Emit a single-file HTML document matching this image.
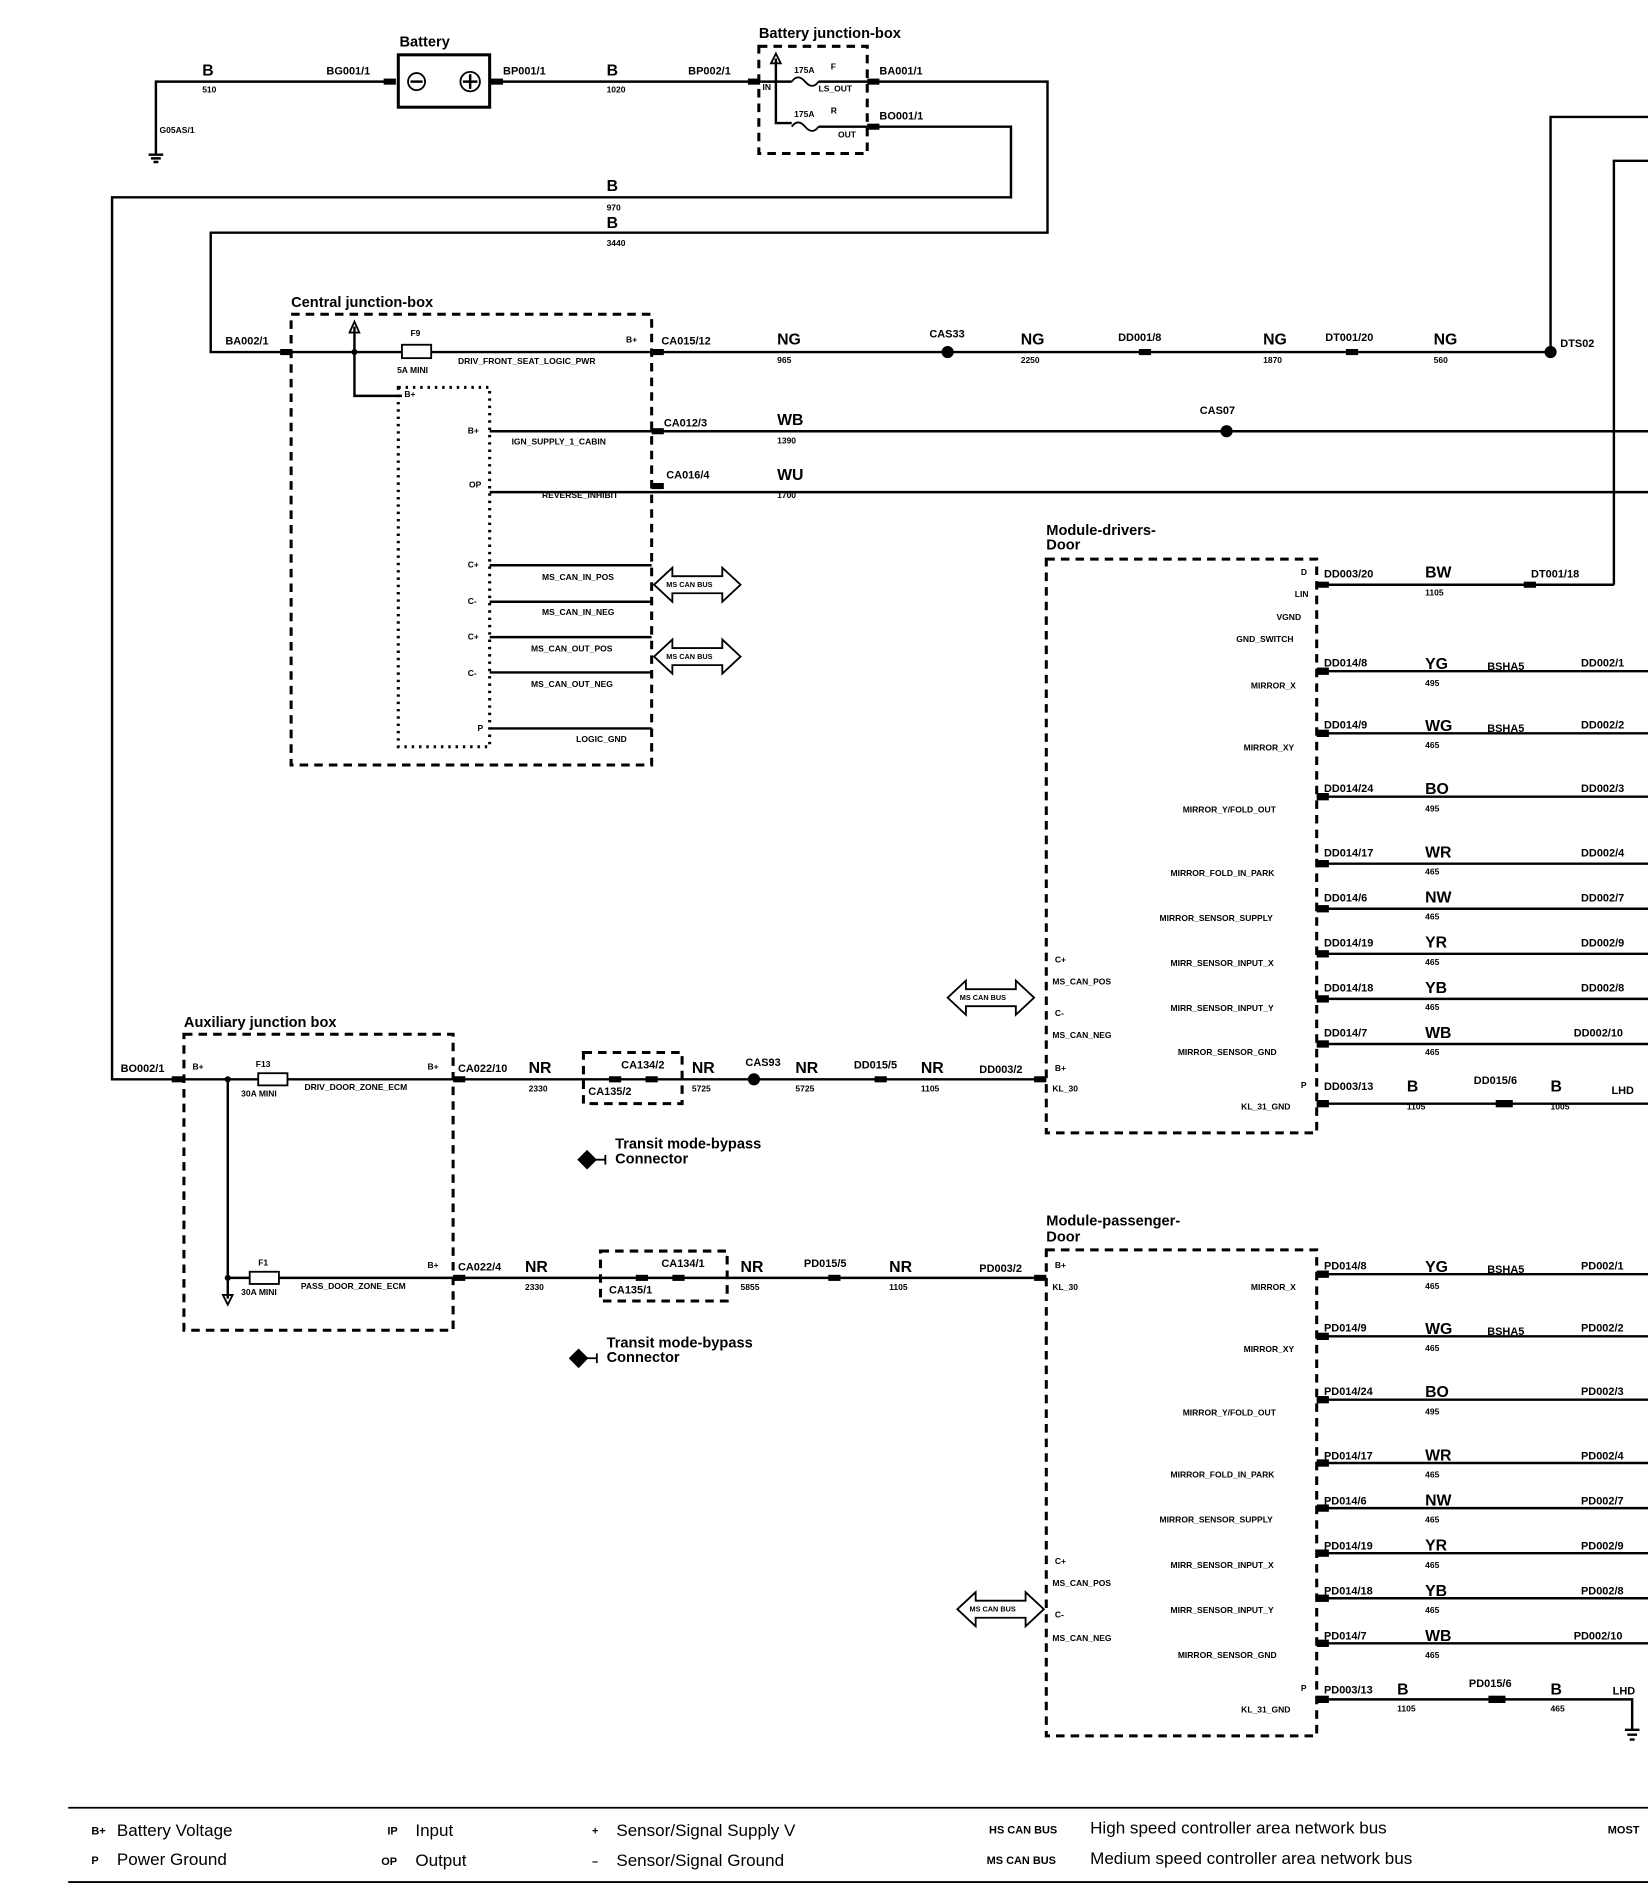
<!DOCTYPE html>
<html><head><meta charset="utf-8"><style>
html,body{margin:0;padding:0;background:#fff}
svg{display:block}
text{font-family:"Liberation Sans",Arial,sans-serif;fill:#000}
.s{font-size:9px;font-weight:bold}
.n{font-size:7px;font-weight:bold}
.c{font-size:13px;font-weight:bold}
.t{font-size:12px;font-weight:bold}
.l{font-size:9px}
.w{stroke:#000;stroke-width:2;fill:none}
.d{stroke:#000;stroke-width:2.5;fill:none;stroke-dasharray:7,5}
.p{stroke:#000;stroke-width:2.5;fill:none;stroke-dasharray:2,4}
.g{font-size:14px}
</style></head><body>
<svg width="1648" height="1904" viewBox="0 0 1353 1563" preserveAspectRatio="none" xmlns="http://www.w3.org/2000/svg">
<defs>
<g id="cn"><rect x="-5" y="-2.5" width="10" height="5" fill="#000"/></g>
</defs>
<!-- top battery -->
<path class="w" d="M128 127 V67 H320"/>
<path class="w" d="M122 127 H134 M124 130 H132 M126 133 H130"/>
<text class="n" x="131" y="109">G05AS/1</text>
<text class="c" x="166" y="62">B</text><text class="n" x="166" y="76">510</text>
<text class="s" x="268" y="61">BG001/1</text>
<use href="#cn" x="320" y="67"/>
<text class="t" x="328" y="38">Battery</text>
<rect x="327" y="45" width="75" height="43" fill="none" stroke="#000" stroke-width="2.5"/>
<circle cx="342" cy="67" r="7" fill="none" stroke="#000" stroke-width="1.5"/><path class="w" d="M337 67 H347"/>
<circle cx="386" cy="67" r="8" fill="none" stroke="#000" stroke-width="1.5"/><path class="w" d="M380 67 H392 M386 61 V73"/>
<path class="w" d="M402 67 H625"/><use href="#cn" x="408" y="67"/><use href="#cn" x="619" y="67"/>
<text class="s" x="413" y="61">BP001/1</text>
<text class="c" x="498" y="62">B</text><text class="n" x="498" y="76">1020</text>
<text class="s" x="565" y="61">BP002/1</text>
<text class="t" x="623" y="31">Battery junction-box</text>
<rect class="d" x="623" y="38" width="89" height="88"/>
<path class="w" d="M637 48 V101 H650 M625 67 H650 M672 67 H712 M672 104 H712"/>
<path d="M637 44 L633 52 H641Z" fill="none" stroke="#000" stroke-width="1.5"/>
<path d="M650 67 q5 -7 11 0 t11 0 M650 104 q5 -7 11 0 t11 0" fill="none" stroke="#000" stroke-width="1.5"/>
<text class="n" x="652" y="60">175A</text><text class="n" x="682" y="57">F</text><text class="n" x="672" y="75">LS_OUT</text>
<text class="n" x="652" y="96">175A</text><text class="n" x="682" y="93">R</text><text class="n" x="688" y="113">OUT</text>
<text class="n" x="626" y="74">IN</text>
<use href="#cn" x="717" y="67"/><use href="#cn" x="717" y="104"/>
<text class="s" x="722" y="61">BA001/1</text><text class="s" x="722" y="98">BO001/1</text>
<path class="w" d="M712 67 H860 V191 H173 V289 H232"/>
<path class="w" d="M712 104 H830 V162 H92 V886 H140"/>
<text class="c" x="498" y="157">B</text><text class="n" x="498" y="173">970</text>
<text class="c" x="498" y="187">B</text><text class="n" x="498" y="202">3440</text>
<!-- right top -->
<path class="w" d="M1273 289 V96 H1353 M1325 480 V132 H1353"/>
<!-- central jb -->
<text class="t" x="239" y="252">Central junction-box</text>
<rect class="d" x="239" y="258" width="296" height="370"/>
<text class="s" x="185" y="283">BA002/1</text>
<use href="#cn" x="235" y="289"/>
<path class="w" d="M239 289 H330 M354 289 H1273"/>
<rect x="330" y="283" width="24" height="11" fill="none" stroke="#000" stroke-width="1.5"/>
<text class="n" x="337" y="276">F9</text><text class="n" x="326" y="306">5A MINI</text>
<path class="w" d="M291 268 V325 H330"/><path d="M291 264 L287 273 H295Z" fill="none" stroke="#000" stroke-width="1.5"/>
<circle cx="291" cy="289" r="2.5"/>
<rect class="p" x="327" y="318" width="75" height="295"/>
<text class="n" x="332" y="326">B+</text>
<text class="n" x="514" y="281">B+</text>
<text class="n" x="376" y="299">DRIV_FRONT_SEAT_LOGIC_PWR</text>
<use href="#cn" x="540" y="289"/>
<text class="s" x="543" y="283">CA015/12</text>
<text class="c" x="638" y="283">NG</text><text class="n" x="638" y="298">965</text>
<circle cx="778" cy="289" r="5"/><text class="s" x="763" y="277">CAS33</text>
<text class="c" x="838" y="283">NG</text><text class="n" x="838" y="298">2250</text>
<use href="#cn" x="940" y="289"/><text class="s" x="918" y="280">DD001/8</text>
<text class="c" x="1037" y="283">NG</text><text class="n" x="1037" y="298">1870</text>
<use href="#cn" x="1110" y="289"/><text class="s" x="1088" y="280">DT001/20</text>
<text class="c" x="1177" y="283">NG</text><text class="n" x="1177" y="298">560</text>
<circle cx="1273" cy="289" r="5"/><text class="s" x="1281" y="285">DTS02</text>
<path class="w" d="M402 354 H1353 M402 404 H1353"/>
<text class="n" x="384" y="356">B+</text><text class="n" x="385" y="400">OP</text>
<text class="n" x="420" y="365">IGN_SUPPLY_1_CABIN</text>
<text class="n" x="445" y="409">REVERSE_INHIBIT</text>
<use href="#cn" x="540" y="354"/><use href="#cn" x="540" y="399"/>
<text class="s" x="545" y="350">CA012/3</text><text class="c" x="638" y="349">WB</text><text class="n" x="638" y="364">1390</text>
<circle cx="1007" cy="354" r="5"/><text class="s" x="985" y="340">CAS07</text>
<text class="s" x="547" y="393">CA016/4</text><text class="c" x="638" y="394">WU</text><text class="n" x="638" y="409">1700</text>
<path class="w" d="M402 464 H535 M402 494 H535 M402 523 H535 M402 552 H535 M402 598 H535"/>
<text class="n" x="384" y="466">C+</text><text class="n" x="384" y="496">C-</text><text class="n" x="384" y="525">C+</text><text class="n" x="384" y="555">C-</text><text class="n" x="392" y="600">P</text>
<text class="n" x="445" y="476">MS_CAN_IN_POS</text><text class="n" x="445" y="505">MS_CAN_IN_NEG</text>
<text class="n" x="436" y="535">MS_CAN_OUT_POS</text><text class="n" x="436" y="564">MS_CAN_OUT_NEG</text>
<text class="n" x="473" y="609">LOGIC_GND</text>
<g id="bus"><path d="M537 480 L552 466 V473 H593 V466 L608 480 L593 494 V487 H552 V494 Z" fill="#fff" stroke="#000" stroke-width="1.5"/><text x="547" y="482" style="font-size:6px;font-weight:bold">MS CAN BUS</text></g>
<use href="#bus" y="59"/>
<use href="#bus" x="241" y="339"/>
<use href="#bus" x="249" y="841"/>
<!-- driver door module -->
<text class="t" x="859" y="439">Module-drivers-</text><text class="t" x="859" y="451">Door</text>
<rect class="d" x="859" y="459" width="222" height="471"/>
<text class="n" x="1068" y="472">D</text><text class="n" x="1063" y="490">LIN</text>
<text class="n" x="1048" y="509">VGND</text><text class="n" x="1015" y="527">GND_SWITCH</text>
<path class="w" d="M1081 480 H1325"/><use href="#cn" x="1086" y="480"/><use href="#cn" x="1256" y="480"/>
<text class="s" x="1087" y="474">DD003/20</text><text class="c" x="1170" y="474">BW</text><text class="n" x="1170" y="489">1105</text><text class="s" x="1257" y="474">DT001/18</text>
<g class="w">
<path d="M1081 551 H1353 M1081 602 H1353 M1081 654 H1353 M1081 709 H1353 M1081 746 H1353 M1081 783 H1353 M1081 820 H1353 M1081 857 H1353 M1081 906 H1353"/>
<path d="M1081 1046 H1353 M1081 1097 H1353 M1081 1149 H1353 M1081 1201 H1353 M1081 1238 H1353 M1081 1275 H1353 M1081 1312 H1353 M1081 1349 H1353 M1081 1395 H1340 V1420"/>
</g>
<g class="s">
<text x="1087" y="547">DD014/8</text><text x="1087" y="598">DD014/9</text><text x="1087" y="650">DD014/24</text><text x="1087" y="703">DD014/17</text><text x="1087" y="740">DD014/6</text><text x="1087" y="777">DD014/19</text><text x="1087" y="814">DD014/18</text><text x="1087" y="851">DD014/7</text><text x="1087" y="895">DD003/13</text>
<text x="1298" y="547">DD002/1</text><text x="1298" y="598">DD002/2</text><text x="1298" y="650">DD002/3</text><text x="1298" y="703">DD002/4</text><text x="1298" y="740">DD002/7</text><text x="1298" y="777">DD002/9</text><text x="1298" y="814">DD002/8</text><text x="1292" y="851">DD002/10</text>
<text x="1221" y="550">BSHA5</text><text x="1221" y="601">BSHA5</text><text x="1210" y="890">DD015/6</text><text x="1323" y="898">LHD</text>
<text x="1087" y="1042">PD014/8</text><text x="1087" y="1093">PD014/9</text><text x="1087" y="1145">PD014/24</text><text x="1087" y="1198">PD014/17</text><text x="1087" y="1235">PD014/6</text><text x="1087" y="1272">PD014/19</text><text x="1087" y="1309">PD014/18</text><text x="1087" y="1346">PD014/7</text><text x="1087" y="1390">PD003/13</text>
<text x="1298" y="1042">PD002/1</text><text x="1298" y="1093">PD002/2</text><text x="1298" y="1145">PD002/3</text><text x="1298" y="1198">PD002/4</text><text x="1298" y="1235">PD002/7</text><text x="1298" y="1272">PD002/9</text><text x="1298" y="1309">PD002/8</text><text x="1292" y="1346">PD002/10</text>
<text x="1221" y="1045">BSHA5</text><text x="1221" y="1096">BSHA5</text><text x="1206" y="1385">PD015/6</text><text x="1324" y="1391">LHD</text>
</g>
<g class="c">
<text x="1170" y="549">YG</text><text x="1170" y="600">WG</text><text x="1170" y="652">BO</text><text x="1170" y="704">WR</text><text x="1170" y="741">NW</text><text x="1170" y="778">YR</text><text x="1170" y="815">YB</text><text x="1170" y="852">WB</text><text x="1155" y="896">B</text><text x="1273" y="896">B</text>
<text x="1170" y="1044">YG</text><text x="1170" y="1095">WG</text><text x="1170" y="1147">BO</text><text x="1170" y="1199">WR</text><text x="1170" y="1236">NW</text><text x="1170" y="1273">YR</text><text x="1170" y="1310">YB</text><text x="1170" y="1347">WB</text><text x="1147" y="1391">B</text><text x="1273" y="1391">B</text>
</g>
<g class="n">
<text x="1170" y="563">495</text><text x="1170" y="614">465</text><text x="1170" y="666">495</text><text x="1170" y="718">465</text><text x="1170" y="755">465</text><text x="1170" y="792">465</text><text x="1170" y="829">465</text><text x="1170" y="866">465</text><text x="1155" y="911">1105</text><text x="1273" y="911">1005</text>
<text x="1170" y="1058">465</text><text x="1170" y="1109">465</text><text x="1170" y="1161">495</text><text x="1170" y="1213">465</text><text x="1170" y="1250">465</text><text x="1170" y="1287">465</text><text x="1170" y="1324">465</text><text x="1170" y="1361">465</text><text x="1147" y="1405">1105</text><text x="1273" y="1405">465</text>
<text x="1027" y="565">MIRROR_X</text><text x="1021" y="616">MIRROR_XY</text><text x="971" y="667">MIRROR_Y/FOLD_OUT</text><text x="961" y="719">MIRROR_FOLD_IN_PARK</text><text x="952" y="756">MIRROR_SENSOR_SUPPLY</text><text x="961" y="793">MIRR_SENSOR_INPUT_X</text><text x="961" y="830">MIRR_SENSOR_INPUT_Y</text><text x="967" y="866">MIRROR_SENSOR_GND</text><text x="1019" y="911">KL_31_GND</text><text x="1068" y="893">P</text>
<text x="1027" y="1059">MIRROR_X</text><text x="1021" y="1110">MIRROR_XY</text><text x="971" y="1162">MIRROR_Y/FOLD_OUT</text><text x="961" y="1213">MIRROR_FOLD_IN_PARK</text><text x="952" y="1250">MIRROR_SENSOR_SUPPLY</text><text x="961" y="1287">MIRR_SENSOR_INPUT_X</text><text x="961" y="1324">MIRR_SENSOR_INPUT_Y</text><text x="967" y="1361">MIRROR_SENSOR_GND</text><text x="1019" y="1406">KL_31_GND</text><text x="1068" y="1388">P</text>
<text x="866" y="790">C+</text><text x="864" y="808">MS_CAN_POS</text><text x="866" y="834">C-</text><text x="864" y="852">MS_CAN_NEG</text><text x="866" y="879">B+</text><text x="864" y="896">KL_30</text>
<text x="866" y="1284">C+</text><text x="864" y="1302">MS_CAN_POS</text><text x="866" y="1328">C-</text><text x="864" y="1347">MS_CAN_NEG</text><text x="866" y="1041">B+</text><text x="864" y="1059">KL_30</text>
</g>
<g fill="#000">
<rect x="1081" y="548" width="10" height="6"/><rect x="1081" y="599" width="10" height="6"/><rect x="1081" y="651" width="10" height="6"/><rect x="1081" y="706" width="10" height="6"/><rect x="1081" y="743" width="10" height="6"/><rect x="1081" y="780" width="10" height="6"/><rect x="1081" y="817" width="10" height="6"/><rect x="1081" y="854" width="10" height="6"/><rect x="1081" y="903" width="10" height="6"/><rect x="1228" y="903" width="14" height="6"/>
<rect x="1081" y="1043" width="10" height="6"/><rect x="1081" y="1094" width="10" height="6"/><rect x="1081" y="1146" width="10" height="6"/><rect x="1081" y="1198" width="10" height="6"/><rect x="1081" y="1235" width="10" height="6"/><rect x="1081" y="1272" width="10" height="6"/><rect x="1081" y="1309" width="10" height="6"/><rect x="1081" y="1346" width="10" height="6"/><rect x="1081" y="1392" width="10" height="6"/><rect x="1222" y="1392" width="14" height="6"/>
</g>
<path class="w" d="M1334 1420 H1346 M1336 1424 H1344 M1338 1428 H1342"/>
<!-- passenger module -->
<text class="t" x="859" y="1006">Module-passenger-</text><text class="t" x="859" y="1019">Door</text>
<rect class="d" x="859" y="1026" width="222" height="399"/>
<!-- aux jb -->
<text class="t" x="151" y="843">Auxiliary junction box</text>
<rect class="d" x="151" y="849" width="221" height="243"/>
<text class="s" x="99" y="880">BO002/1</text><use href="#cn" x="146" y="886"/>
<text class="n" x="158" y="878">B+</text>
<path class="w" d="M140 886 H212 M236 886 H859"/>
<rect x="212" y="881" width="24" height="10" fill="none" stroke="#000" stroke-width="1.5"/>
<text class="n" x="210" y="876">F13</text><text class="n" x="198" y="900">30A MINI</text>
<path class="w" d="M187 886 V1066 M187 1049 H205 M229 1049 H859"/>
<circle cx="187" cy="886" r="2.5"/><circle cx="187" cy="1049" r="2.5"/>
<path d="M187 1071 L183 1063 H191Z" fill="none" stroke="#000" stroke-width="1.5"/>
<rect x="205" y="1044" width="24" height="10" fill="none" stroke="#000" stroke-width="1.5"/>
<text class="n" x="212" y="1039">F1</text><text class="n" x="198" y="1063">30A MINI</text>
<text class="n" x="351" y="878">B+</text><text class="n" x="250" y="895">DRIV_DOOR_ZONE_ECM</text>
<text class="n" x="351" y="1041">B+</text><text class="n" x="247" y="1058">PASS_DOOR_ZONE_ECM</text>
<use href="#cn" x="377" y="886"/><use href="#cn" x="377" y="1049"/>
<text class="s" x="376" y="880">CA022/10</text><text class="s" x="376" y="1043">CA022/4</text>
<text class="c" x="434" y="881">NR</text><text class="n" x="434" y="896">2330</text>
<text class="c" x="431" y="1044">NR</text><text class="n" x="431" y="1059">2330</text>
<rect class="d" x="479" y="864" width="81" height="42"/>
<use href="#cn" x="505" y="886"/><use href="#cn" x="535" y="886"/>
<text class="s" x="510" y="877">CA134/2</text><text class="s" x="483" y="899">CA135/2</text>
<rect class="d" x="493" y="1027" width="104" height="41"/>
<use href="#cn" x="527" y="1049"/><use href="#cn" x="557" y="1049"/>
<text class="s" x="543" y="1040">CA134/1</text><text class="s" x="500" y="1062">CA135/1</text>
<text class="c" x="568" y="881">NR</text><text class="n" x="568" y="896">5725</text>
<circle cx="619" cy="886" r="5"/><text class="s" x="612" y="875">CAS93</text>
<text class="c" x="653" y="881">NR</text><text class="n" x="653" y="896">5725</text>
<use href="#cn" x="723" y="886"/><text class="s" x="701" y="877">DD015/5</text>
<text class="c" x="756" y="881">NR</text><text class="n" x="756" y="896">1105</text>
<text class="s" x="804" y="881">DD003/2</text><use href="#cn" x="854" y="886"/>
<text class="c" x="608" y="1044">NR</text><text class="n" x="608" y="1059">5855</text>
<use href="#cn" x="685" y="1049"/><text class="s" x="660" y="1040">PD015/5</text>
<text class="c" x="730" y="1044">NR</text><text class="n" x="730" y="1059">1105</text>
<text class="s" x="804" y="1044">PD003/2</text><use href="#cn" x="854" y="1049"/>
<path d="M475 952 L482 945 L489 952 L482 959Z M489 952 H497 M497 948 V956" fill="#000" stroke="#000" stroke-width="1.5"/>
<text class="t" x="505" y="943">Transit mode-bypass</text><text class="t" x="505" y="955">Connector</text>
<path d="M468 1115 L475 1108 L482 1115 L475 1122Z M482 1115 H490 M490 1111 V1119" fill="#000" stroke="#000" stroke-width="1.5"/>
<text class="t" x="498" y="1106">Transit mode-bypass</text><text class="t" x="498" y="1118">Connector</text>
<!-- legend -->
<path d="M56 1484 H1353 M56 1545 H1353" stroke="#000" stroke-width="1.5"/>
<text class="s" x="75" y="1506">B+</text><text class="g" x="96" y="1507">Battery Voltage</text>
<text class="s" x="75" y="1530">P</text><text class="g" x="96" y="1531">Power Ground</text>
<text class="s" x="318" y="1506">IP</text><text class="g" x="341" y="1507">Input</text>
<text class="s" x="313" y="1531">OP</text><text class="g" x="341" y="1532">Output</text>
<text class="s" x="486" y="1506">+</text><text class="g" x="506" y="1507">Sensor/Signal Supply V</text>
<text class="s" x="486" y="1531">–</text><text class="g" x="506" y="1532">Sensor/Signal Ground</text>
<text class="s" x="812" y="1505">HS CAN BUS</text><text class="g" x="895" y="1505">High speed controller area network bus</text>
<text class="s" x="810" y="1530">MS CAN BUS</text><text class="g" x="895" y="1530">Medium speed controller area network bus</text>
<text class="s" x="1320" y="1505">MOST</text>
</svg>
</body></html>
